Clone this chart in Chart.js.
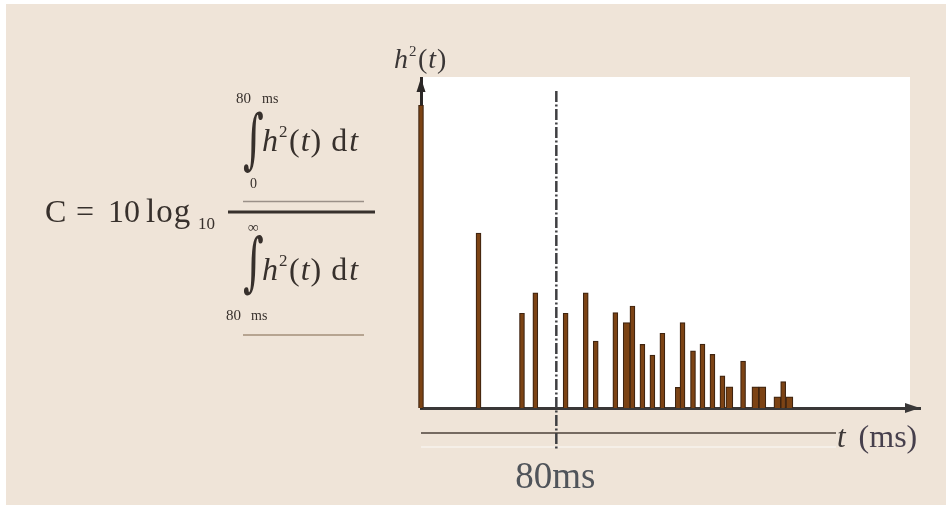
<!DOCTYPE html>
<html>
<head>
<meta charset="utf-8">
<script src="https://cdn.jsdelivr.net/npm/chart.js@4.4.1/dist/chart.umd.min.js"></script>
<style>
  html, body { margin: 0; padding: 0; background: #ffffff; overflow: hidden; }
  canvas { display: block; }
</style>
</head>
<body>
<canvas id="clarity" width="946" height="508"></canvas>
<script>
// Squared impulse response h²(t): arrival times (ms) and relative energy (direct sound = 100)
const reflectionTimes  = [0, 34.0, 59.7, 67.6, 85.5, 97.4, 103.3, 114.9, 125.0, 130.9, 136.8, 142.7, 154.6, 160.8, 166.4, 172.3, 178.2, 190.4, 214.1];
const reflectionLevels = [100, 57.8, 31.3, 38.0, 31.3, 38.0, 22.1, 31.5, 33.7, 21.0, 17.5, 24.7, 28.2, 18.9, 21.1, 17.7, 10.6, 15.5, 8.7];
// Clustered late arrivals, drawn as broader bars
const clusterTimes  = [121.6, 152.4, 182.3, 197.7, 201.8, 210.7, 217.8];
const clusterLevels = [28.2, 6.8, 7.0, 7.0, 7.0, 3.7, 3.7];
// Early / late boundary and axis ranges
const splitTime = 80;
const timeRange = [0, 295];
const levelRange = [0, 109];
const splitLabel = '80ms';

const SERIF = '"Liberation Serif", "Times New Roman", serif';
const INK = '#37302c';
const BAR_FILL = '#7c4314';
const BAR_EDGE = '#3f2410';

function toPoints(xs, ys) { return xs.map((x, i) => ({ x: x, y: ys[i] })); }

function put(ctx, s, x, y, font, color) {
  ctx.font = font;
  ctx.fillStyle = color || INK;
  ctx.fillText(s, x, y);
  return x + ctx.measureText(s).width;
}

// integral sign stretched to span [top, bottom]
function integralSign(ctx, x, top, bottom) {
  ctx.save();
  ctx.font = '40px "DejaVu Serif", serif';
  const m = ctx.measureText('\u222B');
  const h = m.actualBoundingBoxAscent + m.actualBoundingBoxDescent;
  const sy = (bottom - top) / h;
  ctx.translate(x, top);
  ctx.scale(1, sy);
  ctx.fillStyle = INK;
  ctx.fillText('\u222B', 0, m.actualBoundingBoxAscent);
  ctx.restore();
}

// h²(t) dt written after an integral sign
function integrand(ctx, x, y) {
  const it = 'italic 32px ' + SERIF, up = '32px ' + SERIF, sup = '17px ' + SERIF;
  x = put(ctx, 'h', x, y, it);
  put(ctx, '2', x + 1, y - 14, sup);
  x += 11;
  x = put(ctx, '(', x, y, up);
  x = put(ctx, 't', x + 1, y, it);
  x = put(ctx, ')', x + 1, y, up);
  x += 10;
  x = put(ctx, 'd', x, y, up);
  put(ctx, 't', x + 2, y, it);
}

const backdrop = {
  id: 'backdrop',
  beforeDraw(chart) {
    const { ctx, chartArea: a } = chart;
    ctx.save();
    ctx.fillStyle = '#ffffff';
    ctx.fillRect(0, 0, chart.width, chart.height);
    ctx.fillStyle = '#efe4d8';
    ctx.fillRect(6, 4, chart.width - 6, chart.height - 7);
    ctx.fillStyle = '#ffffff';
    ctx.fillRect(a.left, a.top - 1, a.right - a.left - 10, a.bottom - a.top + 1);
    ctx.restore();
  }
};

const annotations = {
  id: 'annotations',
  afterDatasetsDraw(chart) {
    const { ctx, chartArea: a, scales: { x } } = chart;
    ctx.save();

    // arrowheads on both axes
    ctx.fillStyle = '#2b2726';
    ctx.beginPath();
    ctx.moveTo(a.left, a.top);
    ctx.lineTo(a.left - 4.5, a.top + 14);
    ctx.lineTo(a.left + 4.5, a.top + 14);
    ctx.closePath();
    ctx.fill();
    ctx.fillStyle = '#3a3838';
    ctx.beginPath();
    ctx.moveTo(a.right, a.bottom);
    ctx.lineTo(a.right - 15, a.bottom - 5);
    ctx.lineTo(a.right - 15, a.bottom + 5);
    ctx.closePath();
    ctx.fill();

    // time line beneath the plot
    const lineY = a.bottom + 25;
    ctx.strokeStyle = '#756a61';
    ctx.lineWidth = 2;
    ctx.beginPath();
    ctx.moveTo(a.left, lineY);
    ctx.lineTo(a.right - 84, lineY);
    ctx.stroke();
    ctx.strokeStyle = 'rgba(255,255,255,0.55)';
    ctx.lineWidth = 1.5;
    ctx.beginPath();
    ctx.moveTo(a.left, lineY + 14);
    ctx.lineTo(a.right - 84, lineY + 14);
    ctx.stroke();

    // early / late boundary
    const sx = x.getPixelForValue(splitTime);
    ctx.strokeStyle = '#3f3f42';
    ctx.lineWidth = 2.5;
    ctx.setLineDash([11, 2.5, 2, 2.5]);
    ctx.beginPath();
    ctx.moveTo(sx, a.top + 13);
    ctx.lineTo(sx, a.bottom + 41);
    ctx.stroke();
    ctx.setLineDash([]);

    // boundary label
    ctx.font = '37px ' + SERIF;
    ctx.fillStyle = '#50545a';
    ctx.textAlign = 'center';
    ctx.fillText(splitLabel, sx - 1, a.bottom + 80);
    ctx.textAlign = 'left';

    // axis titles
    let tx = put(ctx, 't', a.right - 83, a.bottom + 39, 'italic 31px ' + SERIF, '#3d3838');
    put(ctx, '(ms)', tx + 13, a.bottom + 39, '32px ' + SERIF, '#463f4c');
    let hx = put(ctx, 'h', a.left - 27, a.top - 10, 'italic 28px ' + SERIF, '#3a3636');
    put(ctx, '2', hx + 1, a.top - 22, '15px ' + SERIF, '#3a3636');
    hx += 10;
    hx = put(ctx, '(', hx, a.top - 10, '28px ' + SERIF, '#3a3636');
    hx = put(ctx, 't', hx + 1, a.top - 10, 'italic 28px ' + SERIF, '#3a3636');
    put(ctx, ')', hx + 1, a.top - 10, '28px ' + SERIF, '#3a3636');

    // clarity index formula
    put(ctx, 'C', 45, 222, '32px ' + SERIF);
    put(ctx, '=', 76, 222, '32px ' + SERIF);
    put(ctx, '10', 108, 222, '32px ' + SERIF);
    ctx.letterSpacing = '1px';
    put(ctx, 'log', 146, 222, '33px ' + SERIF);
    ctx.letterSpacing = '0px';
    put(ctx, '10', 198, 229, '17px ' + SERIF);

    ctx.fillStyle = INK;
    ctx.fillRect(228, 210.5, 147, 3);
    ctx.strokeStyle = '#9a9088';
    ctx.lineWidth = 1.5;
    ctx.beginPath(); ctx.moveTo(243, 201.5); ctx.lineTo(364, 201.5); ctx.stroke();
    ctx.strokeStyle = '#a38f7a';
    ctx.beginPath(); ctx.moveTo(243, 335); ctx.lineTo(364, 335); ctx.stroke();

    // numerator: 0 .. 80 ms
    put(ctx, '80', 236, 103, '15px ' + SERIF);
    put(ctx, 'ms', 262, 103, '14px ' + SERIF);
    integralSign(ctx, 243, 110, 174);
    put(ctx, '0', 250, 188, '14px ' + SERIF);
    integrand(ctx, 262, 151);

    // denominator: 80 ms .. ∞
    put(ctx, '\u221E', 248, 232, '15px ' + SERIF);
    integralSign(ctx, 243, 234, 297);
    integrand(ctx, 262, 280);
    put(ctx, '80', 226, 320, '15px ' + SERIF);
    put(ctx, 'ms', 251, 320, '14px ' + SERIF);

    ctx.restore();
  }
};

new Chart(document.getElementById('clarity'), {
  type: 'bar',
  data: {
    datasets: [
      {
        label: 'reflections',
        data: toPoints(reflectionTimes, reflectionLevels),
        backgroundColor: BAR_FILL,
        borderColor: BAR_EDGE,
        borderWidth: 1.2,
        barThickness: 5,
        grouped: false,
        clip: false
      },
      {
        label: 'clusters',
        data: toPoints(clusterTimes, clusterLevels),
        backgroundColor: BAR_FILL,
        borderColor: BAR_EDGE,
        borderWidth: 1.2,
        barThickness: 7,
        grouped: false,
        clip: false
      }
    ]
  },
  options: {
    responsive: false,
    animation: false,
    devicePixelRatio: 1,
    layout: { padding: { left: 421, right: 26, top: 78, bottom: 100 } },
    plugins: { legend: { display: false }, tooltip: { enabled: false } },
    scales: {
      x: {
        type: 'linear',
        offset: false,
        min: timeRange[0],
        max: timeRange[1],
        grid: { display: false, drawTicks: false, offset: false },
        ticks: { display: false },
        border: { display: true, color: '#3a3838', width: 3 }
      },
      y: {
        type: 'linear',
        min: levelRange[0],
        max: levelRange[1],
        grid: { display: false, drawTicks: false },
        ticks: { display: false },
        border: { display: true, color: '#2b2726', width: 3 }
      }
    }
  },
  plugins: [backdrop, annotations]
});
</script>
</body>
</html>
